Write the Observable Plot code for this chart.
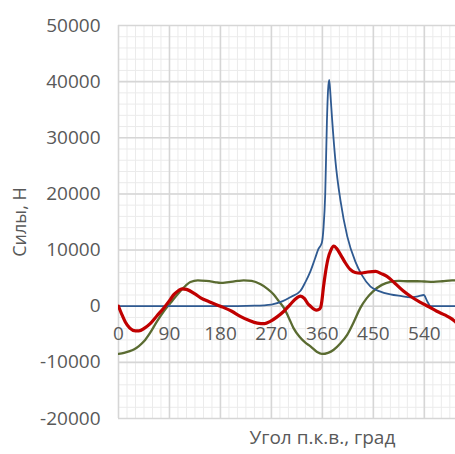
<!DOCTYPE html>
<html>
<head>
<meta charset="utf-8">
<script src="https://cdn.jsdelivr.net/npm/d3@7"></script>
<script src="https://cdn.jsdelivr.net/npm/@observablehq/plot@0.6"></script>
<style>
  html, body { margin: 0; padding: 0; background: #fff; overflow: hidden; }
</style>
</head>
<body>
<div id="chart"></div>
<script>
// Tick values
const xTicks = [0, 90, 180, 270, 360, 450, 540];
const yTicks = [-20000, -10000, 0, 10000, 20000, 30000, 40000, 50000];
const xTitle = "Угол п.к.в., град";
const yTitle = "Силы, Н";

// Blue series (angle, force)
const blueAngle = [0, 90, 180, 240, 270, 290, 305, 321, 330, 339, 347, 353, 359, 362, 365, 368, 370, 372, 374, 377, 383, 392, 404, 418, 430, 445, 460, 480, 500, 515, 530, 539, 545, 551, 570, 595];
const blueForce = [0, 0, 0, 100, 300, 900, 1700, 2700, 4300, 6250, 8500, 10200, 11300, 14000, 20000, 33000, 38500, 40300, 38000, 33500, 25900, 18750, 12400, 8000, 5500, 3500, 2700, 2100, 1800, 1600, 1800, 2000, 900, 0, 0, 0];

// Red series
const redAngle = [0, 6, 12, 20, 30, 36, 46, 56, 68, 80, 90, 98, 106, 112, 120, 135, 145, 160, 180, 200, 215, 230, 245, 258, 268, 280, 292, 303, 315, 321, 328, 334, 339, 345, 350, 355, 357, 359, 362, 365, 370, 375, 380, 385, 392, 400, 409, 418, 427, 440, 454, 464, 474, 488, 503, 518, 533, 548, 562, 577, 589, 595];
const redForce = [0, -1500, -2800, -3900, -4400, -4400, -3900, -3100, -1700, -300, 1000, 2100, 2800, 3100, 3000, 2200, 1500, 800, 0, -900, -1800, -2500, -3000, -3100, -2700, -1900, -900, 300, 1500, 1800, 1400, 500, 0, -500, -700, -500, -200, 900, 3500, 5700, 8500, 10000, 10700, 10300, 9200, 7800, 6550, 6000, 5900, 6100, 6200, 5800, 5300, 4100, 2700, 1600, 700, -100, -900, -1600, -2300, -2800];

// Green series
const greenAngle = [0, 10, 20, 27, 36, 45, 56, 68, 80, 92, 104, 115, 127, 140, 155, 170, 180, 195, 210, 221, 235, 251, 263, 274, 283, 292, 300, 309, 320, 330, 339, 350, 359, 370, 380, 392, 404, 415, 427, 438, 450, 465, 480, 495, 510, 527, 540, 556, 572, 589, 595];
const greenForce = [-8500, -8300, -8000, -7700, -7100, -6250, -4700, -2700, -900, 600, 2100, 3300, 4300, 4600, 4500, 4300, 4150, 4300, 4500, 4600, 4500, 3900, 3100, 2100, 900, -300, -1900, -3900, -5500, -6500, -7150, -8100, -8500, -8300, -7750, -6600, -5050, -2900, -300, 1400, 2700, 3800, 4350, 4500, 4450, 4450, 4400, 4350, 4450, 4600, 4600];

const toRows = (a, v) => a.map((x, i) => ({x, y: v[i]}));
const blue = toRows(blueAngle, blueForce);
const red = toRows(redAngle, redForce);
const green = toRows(greenAngle, greenForce);

const xMinor = d3.range(0, 600, 15);
const yMinor = d3.range(-20000, 50001, 2000);

const font = "'Open Sans', 'Liberation Sans', sans-serif";

const chart = Plot.plot({
  width: 455,
  height: 454,
  marginLeft: 118,
  marginRight: 0,
  marginTop: 25,
  marginBottom: 36,
  style: {fontFamily: font, color: "#595959", background: "#fff"},
  x: {domain: [0, 595], axis: null},
  y: {domain: [-20000, 50000], axis: null},
  marks: [
    Plot.ruleX(xMinor, {x: d => d, stroke: "#ebebeb", strokeWidth: 1}),
    Plot.ruleY(yMinor, {y: d => d, stroke: "#ebebeb", strokeWidth: 1}),
    Plot.ruleX(xTicks, {x: d => d, stroke: "#d6d6d6", strokeWidth: 1.6}),
    Plot.ruleY(yTicks, {y: d => d, stroke: "#d6d6d6", strokeWidth: 1.6}),
    Plot.axisY({ticks: yTicks, tickSize: 0, tickPadding: 18, fontSize: 19, tickFormat: d => String(d), label: null}),
    Plot.text(xTicks, {x: d => d, y: 0, dy: 28, text: d => String(d), fontSize: 19, fill: "#595959"}),
    Plot.line(green, {x: "x", y: "y", stroke: "#5a6b31", strokeWidth: 2.3, curve: "monotone-x", clip: true}),
    Plot.line(blue, {x: "x", y: "y", stroke: "#2f5a91", strokeWidth: 1.8, curve: "monotone-x", clip: true}),
    Plot.line(red, {x: "x", y: "y", stroke: "#c00000", strokeWidth: 3.2, curve: "monotone-x", clip: true}),
    Plot.text([yTitle], {frameAnchor: "left", dx: -98, rotate: -90, textAnchor: "middle", text: d => d, fontSize: 18, fill: "#595959"}),
    Plot.text([xTitle], {x: 360, y: -20000, dy: 19, textAnchor: "middle", text: d => d, fontSize: 19, fill: "#595959"})
  ]
});
document.getElementById("chart").appendChild(chart);
</script>
</body>
</html>
